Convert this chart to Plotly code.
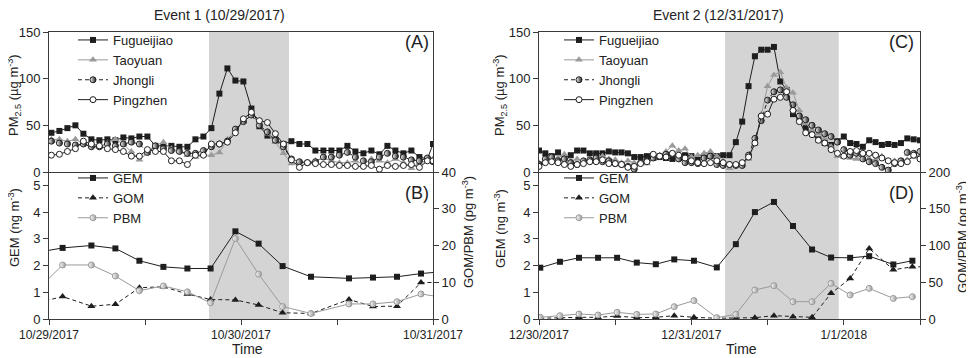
import plotly.graph_objects as go

# the page body has an 8px margin, so the figure is laid out in screen pixels minus 8
OFF = 8
W, H = 974 - OFF, 358 - OFF
def px(x): return (x - OFF) / W
def py(y): return 1 - (y - OFF) / H

# ---------------- DATA ----------------
# Event 1 PM2.5 (hourly, hours from 10/29/2017 00:00)
pm_hours_1 = [0.3 + k for k in range(48)] + [48]
fug1 = [42, 44, 47, 50, 41, 35, 34, 35, 34, 37, 36, 38, 38, 28, 28, 28, 27, 27, 35, 38,
        47, 84, 111, 98, 97, 68, 49, 39, 34, 30, 33, 30, 30, 23, 23, 23, 23, 28, 22, 20,
        23, 19, 28, 23, 20, 23, 16, 14, 30]
tao1 = [35, 35, 33, 35, 30, 28, 27, 31, 35, 30, 22, 13, 20, 28, 32, 25, 22, 18, 16, 18,
        18, 21, 35, 45, 54, 61, 52, 41, 32, 20, 9, 10, 10, 12, 15, 12, 10, 10, 12, 8,
        14, 12, 10, 14, 10, 4, 10, 12, 14]
jho1 = [33, 31, 30, 29, 30, 27, 27, 30, 28, 30, 32, 30, 21, 28, 25, 23, 22, 20, 20, 23,
        27, 30, 33, 46, 54, 61, 50, 43, 34, 27, 14, 11, 10, 11, 16, 16, 18, 21, 16, 12,
        11, 16, 20, 17, 16, 13, 12, 15, 11]
pin1 = [18, 19, 22, 25, 33, 30, 28, 25, 24, 22, 17, 17, 24, 22, 22, 12, 12, 8, 18, 18,
        30, 30, 32, 42, 57, 64, 55, 53, 41, 30, 13, 5, 10, 9, 8, 8, 7, 7, 6, 6,
        7, 3, 7, 6, 7, 8, 5, 12, 12]

# Event 1 mercury (hours from 10/29/2017 00:00)
hg_hours_1 = [-1.3, 1.7, 5.3, 8.3, 11.3, 14.3, 17.3, 20.2, 23.3, 26.2, 29.2, 32.75,
              37.5, 40.5, 43.5, 46.5, 49.5]
gem1 = [2.50, 2.66, 2.75, 2.64, 2.18, 1.95, 1.89, 1.89, 3.28, 2.82, 1.98, 1.58,
        1.52, 1.55, 1.58, 1.70, 1.78]
gom1 = [4.5, 6.1, 3.5, 4.0, 8.5, 8.8, 6.8, 5.3, 5.2, 3.8, 1.7, 1.5, 5.3, 3.4, 3.5, 9.9, 10.0]
pbm1 = [8.3, 14.7, 14.7, 11.7, 7.7, 9.0, 7.4, 4.4, 21.9, 12.2, 3.4, 1.5, 4.1, 4.1, 4.7, 6.8, 5.8]

# Event 2 PM2.5 (hourly, hours from 12/30/2017 00:00)
pm_hours_2 = list(range(61))
fug2 = [23, 20, 17, 21, 15, 18, 23, 23, 20, 20, 20, 22, 21, 21, 20, 16, 16, 17, 15, 16,
        15, 14, 15, 18, 17, 15, 17, 17, 17, 18, 18,
        32, 54, 92, 124, 131, 131, 134, 97, 88, 62, 58, 48, 41, 35, 31, 29, 33, 38, 31,
        30, 27, 34, 32, 29, 30, 29, 31, 36, 35, 34]
tao2 = [10, 12, 14, 15, 19, 12, 14, 11, 13, 15, 17, 14, 13, 10, 12, 10, 9, 9, 14, 18,
        22, 28, 23, 25, 16, 18, 20, 22, 17, 12,
        4, 8, 8, 14, 30, 62, 92, 104, 107, 90, 85, 66, 52, 45, 41, 36, 27, 17, 16, 15,
        14, 20, 14, 13, 17, 12, 12, 10, 13, 16, 18]
jho2 = [8, 14, 16, 12, 14, 10, 8, 12, 13, 15, 11, 12, 9, 8, 6, 3, 10, 12, 15, 17,
        19, 19, 14, 10, 10, 9, 15, 17, 8, 7,
        8, 7, 7, 18, 36, 55, 77, 86, 88, 80, 72, 60, 56, 50, 45, 41, 38, 32, 24, 18,
        20, 14, 11, 9, 5, 2, 9, 12, 21, 20, 22]
pin2 = [6, 10, 11, 10, 8, 6, 8, 9, 11, 11, 13, 9, 9, 8, 5, 6, 9, 11, 19, 17,
        16, 20, 18, 15, 12, 10, 9, 10, 12, 10,
        8, 8, 10, 16, 31, 60, 62, 78, 80, 86, 66, 54, 42, 40, 34, 31, 24, 20, 17, 22,
        23, 20, 20, 18, 15, 12, 10, 9, 11, 18, 14]

# Event 2 mercury (hours from 12/30/2017 00:00)
hg_hours_2 = [0.2, 3.3, 6.3, 9.3, 12.3, 15.4, 18.4, 21.3, 24.4, 28.0, 31.0, 34.0, 37.0,
              40.0, 43.0, 46.0, 49.0, 52.0, 55.8, 58.8, 61.5]
gem2 = [1.92, 2.14, 2.29, 2.29, 2.29, 2.11, 2.05, 2.23, 2.18, 1.93, 2.80, 4.00, 4.38,
        3.48, 2.60, 2.30, 2.29, 2.35, 2.04, 2.18, None]
gom2 = [1.0, 1.8, 2.3, 2.3, 4.0, 1.8, 2.3, 4.5, 2.3, 1.0, 1.0, 1.8, 4.5, 3.2, 2.3,
        35, 55, 96, 67, 71, 71]
pbm2 = [2.3, 4.5, 6.8, 5.4, 9.1, 6.3, 6.8, 16.8, 25.0, 1.8, 6.3, 39.5, 45.4, 23.6,
        23.6, 48.5, 32.7, 41.7, 28.0, 30.4, None]

shade_1 = [20, 30]
shade_2 = [29.3, 47.2]

xticks_1 = ["10/29/2017", "", "10/30/2017", "", "10/31/2017"]
xticks_2 = ["12/30/2017", "", "12/31/2017", "", "1/1/2018", ""]

# ---------------- STYLE ----------------
FONT = "Liberation Sans, Arial, sans-serif"
BLACK = "#1e1e1e"
GRAY = "#9a9a9a"
AX = "#3a3a3a"

def mk_square(c): return dict(symbol="square", size=6, color=c, line=dict(width=0))
def mk_tri(c): return dict(symbol="triangle-up", size=7, color=c, line=dict(width=0))
def mk_half(c): return dict(symbol="circle", size=6, color="white",
                            gradient=dict(type="horizontal", color=c),
                            line=dict(color=c, width=1))
def mk_open(c): return dict(symbol="circle", size=6, color="white", line=dict(color=c, width=1))

fig = go.Figure()

def pm_traces(hours, f, t, j, p, xa, ya, leg):
    fig.add_trace(go.Scatter(x=hours, y=f, name="Fugueijiao", mode="lines+markers",
                             line=dict(color=BLACK, width=1), marker=mk_square(BLACK),
                             xaxis=xa, yaxis=ya, legend=leg))
    fig.add_trace(go.Scatter(x=hours, y=t, name="Taoyuan", mode="lines+markers",
                             line=dict(color=GRAY, width=1), marker=mk_tri(GRAY),
                             xaxis=xa, yaxis=ya, legend=leg))
    fig.add_trace(go.Scatter(x=hours, y=j, name="Jhongli", mode="lines+markers",
                             line=dict(color=BLACK, width=1, dash="4px,3px"), marker=mk_half(BLACK),
                             xaxis=xa, yaxis=ya, legend=leg))
    fig.add_trace(go.Scatter(x=hours, y=p, name="Pingzhen", mode="lines+markers",
                             line=dict(color=BLACK, width=1), marker=mk_open(BLACK),
                             xaxis=xa, yaxis=ya, legend=leg))

def hg_traces(hours, g, o, b, xa, ya, ya2, leg):
    fig.add_trace(go.Scatter(x=hours, y=g, name="GEM", mode="lines+markers",
                             line=dict(color=BLACK, width=1), marker=mk_square(BLACK),
                             xaxis=xa, yaxis=ya, legend=leg))
    fig.add_trace(go.Scatter(x=hours, y=o, name="GOM", mode="lines+markers",
                             line=dict(color=BLACK, width=1, dash="4px,3px"), marker=mk_tri(BLACK),
                             xaxis=xa, yaxis=ya2, legend=leg))
    fig.add_trace(go.Scatter(x=hours, y=b, name="PBM", mode="lines+markers",
                             line=dict(color=GRAY, width=1), marker=mk_half(GRAY),
                             xaxis=xa, yaxis=ya2, legend=leg))

pm_traces(pm_hours_1, fug1, tao1, jho1, pin1, "x", "y", "legend")
hg_traces(hg_hours_1, gem1, gom1, pbm1, "x2", "y2", "y3", "legend2")
pm_traces(pm_hours_2, fug2, tao2, jho2, pin2, "x3", "y4", "legend3")
hg_traces(hg_hours_2, gem2, gom2, pbm2, "x4", "y5", "y6", "legend4")

L = [px(49), px(433)]
R = [px(539), px(920)]
T = [py(172), py(32)]
B = [py(319), py(172)]

tickfont = dict(family=FONT, size=13, color="#222")
xtickfont = dict(family=FONT, size=12, color="#222")
base = dict(showgrid=False, zeroline=False, showline=True, linecolor=AX, linewidth=1,
            ticks="outside", ticklen=5, tickcolor=AX, tickwidth=1, tickfont=tickfont,
            automargin=False)

layout = dict(
    width=W, height=H, margin=dict(l=0, r=0, t=0, b=0, pad=0, autoexpand=False),
    paper_bgcolor="white", plot_bgcolor="rgba(0,0,0,0)",
    font=dict(family=FONT, size=13, color="#222"),
    xaxis=dict(base, domain=L, range=[0, 48], anchor="y", mirror=True, ticks="", showticklabels=False),
    yaxis=dict(base, domain=T, range=[0, 150], anchor="x", mirror=True, tickvals=[0, 50, 100, 150]),
    xaxis2=dict(base, domain=L, range=[0, 48], anchor="y2", tickvals=[0, 12, 24, 36, 48],
                ticktext=xticks_1, tickfont=xtickfont),
    yaxis2=dict(base, domain=B, range=[0, 5.5], anchor="x2", tickvals=[0, 1, 2, 3, 4, 5]),
    yaxis3=dict(base, range=[0, 40], anchor="x2", overlaying="y2", side="right", tickvals=[0, 10, 20, 30, 40]),
    xaxis3=dict(base, domain=R, range=[0, 60], anchor="y4", mirror=True, ticks="", showticklabels=False),
    yaxis4=dict(base, domain=T, range=[0, 150], anchor="x3", mirror=True, tickvals=[0, 50, 100, 150]),
    xaxis4=dict(base, domain=R, range=[0, 60], anchor="y5", tickvals=[0, 12, 24, 36, 48, 60],
                ticktext=xticks_2, tickfont=xtickfont),
    yaxis5=dict(base, domain=B, range=[0, 5.5], anchor="x4", tickvals=[0, 1, 2, 3, 4, 5]),
    yaxis6=dict(base, range=[0, 200], anchor="x4", overlaying="y5", side="right", tickvals=[0, 50, 100, 150, 200]),
)

legfont = dict(family=FONT, size=13, color="#222")
legbase = dict(bgcolor="rgba(0,0,0,0)", font=legfont, xanchor="left", yanchor="top",
               itemwidth=30, tracegroupgap=0, itemclick=False)
layout["legend"] = dict(legbase, x=px(73), y=py(25))
layout["legend2"] = dict(legbase, x=px(73), y=py(163))
layout["legend3"] = dict(legbase, x=px(559), y=py(25))
layout["legend4"] = dict(legbase, x=px(559), y=py(163))

layout["shapes"] = [
    dict(type="rect", xref="x", yref="paper", x0=shade_1[0], x1=shade_1[1], y0=B[0], y1=T[1],
         fillcolor="#d4d4d4", line=dict(width=0), layer="below"),
    dict(type="rect", xref="x3", yref="paper", x0=shade_2[0], x1=shade_2[1], y0=B[0], y1=T[1],
         fillcolor="#d4d4d4", line=dict(width=0), layer="below"),
]

def ann(text, x, y, size=14, angle=0):
    return dict(text=text, x=px(x), y=py(y), xref="paper", yref="paper", showarrow=False,
                xanchor="center", yanchor="middle", textangle=angle,
                font=dict(family=FONT, size=size, color="#222"))

pm_label = "PM<sub>2.5</sub> (µg m<sup>-3</sup>)"
gem_label = "GEM (ng m<sup>-3</sup>)"
hg_label = "GOM/PBM (pg m<sup>-3</sup>)"
layout["annotations"] = [
    ann("Event 1 (10/29/2017)", 219, 15),
    ann("Event 2 (12/31/2017)", 718, 15),
    ann(pm_label, 14, 95, 13, -90),
    ann(pm_label, 500, 95, 13, -90),
    ann(gem_label, 14, 228, 13, -90),
    ann(gem_label, 500, 228, 13, -90),
    ann(hg_label, 468, 232, 13, -90),
    ann(hg_label, 962, 237, 13, -90),
    ann("Time", 247, 349, 14),
    ann("Time", 741, 349, 14),
    ann("(A)", 417, 42, 18),
    ann("(B)", 417, 193, 18),
    ann("(C)", 901, 42, 18),
    ann("(D)", 901, 193, 18),
]

fig.update_layout(layout)
fig.write_html("out.html")
